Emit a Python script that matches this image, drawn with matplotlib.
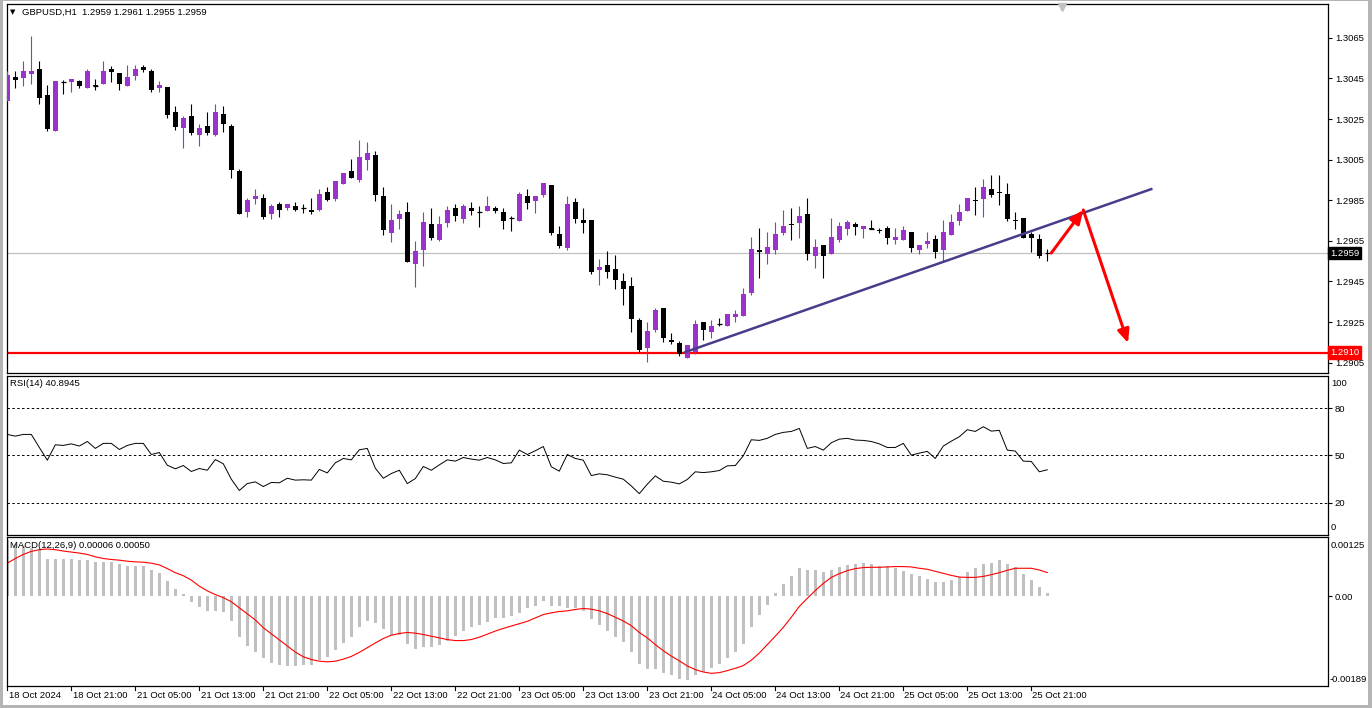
import numpy as np
import matplotlib
matplotlib.use("Agg")
import matplotlib.pyplot as plt
import matplotlib.transforms as mtransforms
from matplotlib.patches import Rectangle

FS = 6.8
plt.rcParams['font.family'] = ['Liberation Sans', 'DejaVu Sans']
plt.rcParams['font.size'] = FS

# GBPUSD H1 candles (open, high, low, close)
open_ = [1.30339, 1.30457, 1.30454, 1.30473, 1.30496, 1.30368, 1.30191, 1.30434, 1.30434, 1.30437,
         1.30404, 1.30418, 1.30424, 1.30496, 1.30477, 1.30414, 1.30464, 1.30506, 1.30487, 1.30404,
         1.30408, 1.30286, 1.30204, 1.30267, 1.30171, 1.30217, 1.30171, 1.30276, 1.30217, 1.29994,
         1.29790, 1.29856, 1.29863, 1.29780, 1.29833, 1.29810, 1.29823, 1.29813, 1.29803, 1.29800,
         1.29892, 1.29856, 1.29932, 1.29994, 1.29948, 1.30050, 1.30073, 1.29869, 1.29689, 1.29757,
         1.29794, 1.29537, 1.29606, 1.29734, 1.29656, 1.29738, 1.29813, 1.29757, 1.29813, 1.29794,
         1.29797, 1.29813, 1.29794, 1.29764, 1.29748, 1.29872, 1.29846, 1.29876, 1.29925, 1.29685,
         1.29613, 1.29843, 1.29754, 1.29754, 1.29508, 1.29531, 1.29511, 1.29452, 1.29429, 1.29262,
         1.29124, 1.29212, 1.29321, 1.29164, 1.29147, 1.29074, 1.29104, 1.29252, 1.29202, 1.29242,
         1.29229, 1.29275, 1.29278, 1.29393, 1.29603, 1.29587, 1.29606, 1.29689, 1.29734, 1.29738,
         1.29784, 1.29577, 1.29629, 1.29587, 1.29656, 1.29708, 1.29734, 1.29708, 1.29712, 1.29705,
         1.29715, 1.29656, 1.29656, 1.29695, 1.29606, 1.29636, 1.29659, 1.29606, 1.29679, 1.29748,
         1.29797, 1.29853, 1.29856, 1.29905, 1.29892, 1.29882, 1.29754, 1.29764, 1.29685, 1.29659,
         1.29590]
high = [1.30487, 1.30488, 1.30536, 1.30659, 1.30536, 1.30418, 1.30437, 1.30441, 1.30447, 1.30444,
        1.30496, 1.30447, 1.30536, 1.30513, 1.30477, 1.30516, 1.30516, 1.30516, 1.30496, 1.30437,
        1.30408, 1.30316, 1.30267, 1.30326, 1.30227, 1.30286, 1.30326, 1.30316, 1.30227, 1.30004,
        1.29863, 1.29905, 1.29882, 1.29833, 1.29843, 1.29833, 1.29843, 1.29833, 1.29863, 1.29905,
        1.29915, 1.29945, 1.29984, 1.30053, 1.30148, 1.30138, 1.30093, 1.29915, 1.29833, 1.29803,
        1.29843, 1.29649, 1.29794, 1.29813, 1.29774, 1.29823, 1.29833, 1.29833, 1.29843, 1.29823,
        1.29872, 1.29823, 1.29813, 1.29774, 1.29892, 1.29905, 1.29872, 1.29935, 1.29925, 1.29725,
        1.29872, 1.29863, 1.29813, 1.29754, 1.29560, 1.29600, 1.29580, 1.29492, 1.29472, 1.29272,
        1.29248, 1.29321, 1.29321, 1.29196, 1.29157, 1.29137, 1.29262, 1.29252, 1.29262, 1.29272,
        1.29291, 1.29311, 1.29419, 1.29669, 1.29712, 1.29695, 1.29744, 1.29803, 1.29813, 1.29823,
        1.29863, 1.29659, 1.29629, 1.29764, 1.29744, 1.29754, 1.29744, 1.29725, 1.29754, 1.29715,
        1.29725, 1.29715, 1.29725, 1.29695, 1.29629, 1.29695, 1.29679, 1.29754, 1.29784, 1.29833,
        1.29863, 1.29915, 1.29955, 1.29974, 1.29974, 1.29935, 1.29794, 1.29764, 1.29695, 1.29685,
        1.29610]
low = [1.30339, 1.30404, 1.30414, 1.30424, 1.30322, 1.30191, 1.30191, 1.30375, 1.30385, 1.30404,
       1.30404, 1.30395, 1.30424, 1.30434, 1.30395, 1.30414, 1.30444, 1.30483, 1.30385, 1.30385,
       1.30253, 1.30194, 1.30109, 1.30171, 1.30119, 1.30171, 1.30165, 1.30184, 1.29961, 1.29780,
       1.29767, 1.29830, 1.29757, 1.29757, 1.29767, 1.29800, 1.29797, 1.29787, 1.29780, 1.29797,
       1.29846, 1.29846, 1.29932, 1.29961, 1.29941, 1.30000, 1.29846, 1.29679, 1.29646, 1.29708,
       1.29547, 1.29423, 1.29528, 1.29656, 1.29649, 1.29718, 1.29748, 1.29738, 1.29777, 1.29718,
       1.29797, 1.29787, 1.29708, 1.29698, 1.29748, 1.29807, 1.29787, 1.29866, 1.29679, 1.29616,
       1.29606, 1.29738, 1.29689, 1.29488, 1.29432, 1.29468, 1.29413, 1.29334, 1.29202, 1.29101,
       1.29055, 1.29202, 1.29153, 1.29143, 1.29084, 1.29074, 1.29094, 1.29160, 1.29173, 1.29229,
       1.29229, 1.29248, 1.29278, 1.29383, 1.29468, 1.29537, 1.29587, 1.29679, 1.29656, 1.29666,
       1.29557, 1.29518, 1.29468, 1.29587, 1.29646, 1.29679, 1.29679, 1.29666, 1.29706, 1.29689,
       1.29636, 1.29636, 1.29656, 1.29597, 1.29587, 1.29616, 1.29567, 1.29547, 1.29679, 1.29728,
       1.29797, 1.29777, 1.29767, 1.29866, 1.29826, 1.29748, 1.29708, 1.29666, 1.29597, 1.29567,
       1.29550]
close = [1.30467, 1.30444, 1.30487, 1.30487, 1.30355, 1.30201, 1.30437, 1.30431, 1.30447, 1.30414,
         1.30487, 1.30414, 1.30487, 1.30483, 1.30424, 1.30457, 1.30496, 1.30493, 1.30395, 1.30418,
         1.30270, 1.30211, 1.30257, 1.30181, 1.30207, 1.30181, 1.30286, 1.30224, 1.30000, 1.29780,
         1.29853, 1.29872, 1.29767, 1.29823, 1.29800, 1.29833, 1.29800, 1.29810, 1.29790, 1.29882,
         1.29849, 1.29945, 1.29984, 1.29961, 1.30063, 1.30083, 1.29876, 1.29702, 1.29754, 1.29780,
         1.29547, 1.29600, 1.29744, 1.29666, 1.29734, 1.29803, 1.29771, 1.29823, 1.29797, 1.29790,
         1.29823, 1.29797, 1.29748, 1.29761, 1.29882, 1.29836, 1.29872, 1.29935, 1.29689, 1.29626,
         1.29833, 1.29757, 1.29738, 1.29495, 1.29521, 1.29498, 1.29459, 1.29413, 1.29265, 1.29110,
         1.29206, 1.29311, 1.29173, 1.29153, 1.29094, 1.29137, 1.29242, 1.29212, 1.29232, 1.29239,
         1.29291, 1.29291, 1.29390, 1.29610, 1.29597, 1.29620, 1.29685, 1.29725, 1.29728, 1.29774,
         1.29587, 1.29620, 1.29577, 1.29669, 1.29725, 1.29744, 1.29718, 1.29725, 1.29708, 1.29698,
         1.29666, 1.29669, 1.29705, 1.29616, 1.29629, 1.29649, 1.29597, 1.29695, 1.29744, 1.29794,
         1.29863, 1.29846, 1.29915, 1.29876, 1.29886, 1.29757, 1.29748, 1.29666, 1.29666, 1.29577,
         1.29590]

# RSI(14)
rsi = [63.4, 62.3, 63.4, 63.4, 55.1, 47.0, 56.8, 56.4, 57.4, 56.0, 58.9, 54.5, 57.7, 57.7, 53.8,
       56.4, 57.7, 57.7, 50.6, 51.9, 43.8, 41.5, 43.6, 39.8, 41.7, 40.6, 47.4, 44.7, 34.9, 27.7,
       32.1, 33.2, 30.2, 32.8, 32.6, 35.5, 34.3, 34.5, 34.3, 41.1, 38.9, 45.3, 48.1, 47.2, 53.6,
       54.5, 41.9, 35.5, 38.5, 40.6, 32.1, 35.3, 43.0, 40.6, 44.0, 47.2, 46.4, 48.7, 47.7, 47.0,
       48.7, 47.2, 44.9, 45.3, 53.4, 50.6, 53.0, 55.7, 42.8, 40.0, 50.6, 48.1, 47.0, 37.2, 38.3,
       37.7, 36.2, 34.9, 30.6, 25.7, 31.7, 37.0, 33.6, 33.0, 31.9, 34.7, 39.6, 39.1, 39.6, 40.4,
       43.4, 43.6, 49.8, 60.0, 59.6, 60.9, 63.4, 64.7, 65.3, 67.2, 54.5, 55.7, 53.4, 58.1, 60.4,
       60.9, 59.8, 59.6, 58.9, 57.4, 55.1, 55.1, 57.7, 50.2, 51.5, 52.6, 48.1, 56.0, 59.1, 61.9,
       66.4, 65.3, 68.3, 65.5, 66.0, 53.4, 52.8, 46.4, 46.2, 39.6, 40.9]

# MACD(12,26,9) main (histogram) and signal, in units of 1e-5
macd_main = [118, 110, 106, 102, 100, 79, 79, 79, 79, 75.5, 76.9, 71.9, 71.9, 71.9, 68.4,
             64.8, 64.8, 64.8, 55.5, 48.4, 31.3, 15.0, 4.3, -12.1, -22.8, -31.3, -31.3, -32.8, -52.7, -84.7,
             -104.7, -116.8, -131.0, -140.3, -144.5, -146.7, -146.7, -145.2, -143.8, -133.9, -127.4, -113.2, -97.5, -86.2, -64.1,
             -52.0, -56.2, -69.8, -81.2, -81.2, -100.4, -110.4, -106.1, -106.1, -102.5, -94.0, -82.6, -74.0, -65.5, -59.8,
             -54.1, -45.6, -45.6, -42.0, -34.9, -25.6, -20.6, -10.0, -20.6, -20.6, -25.6, -25.6, -29.9, -48.4, -59.8,
             -74.0, -84.7, -95.4, -116.8, -141.7, -152.4, -153.8, -160.9, -166.6, -175.2, -176.6, -165.2, -159.5, -150.9, -141.7,
             -129.6, -118.2, -99.7, -65.5, -39.9, -18.5, 6.4, 25.6, 42.7, 59.8, 55.5, 55.5, 52.0, 55.5, 61.9,
             66.2, 68.4, 69.8, 68.4, 64.8, 63.4, 59.8, 54.1, 47.0, 42.0, 36.3, 30.6, 30.6, 34.9, 39.9,
             52.0, 59.1, 68.4, 71.2, 76.9, 68.4, 61.2, 47.7, 34.2, 19.2, 6.0]
macd_signal = [69.8, 79.7, 88.3, 94.7, 98.3, 99.7, 98.3, 95.4, 93.3, 91.1, 88.3, 83.3, 79.7, 77.6, 76.2,
               74.0, 72.6, 71.9, 69.8, 66.2, 58.4, 49.8, 43.4, 34.2, 21.4, 11.4, 3.6, -2.8, -11.4, -24.2,
               -37.0, -49.8, -66.2, -79.0, -91.8, -104.7, -117.5, -127.4, -133.1, -136.7, -138.1, -136.7, -132.4, -126.7, -118.2,
               -108.2, -98.3, -89.0, -81.9, -78.3, -76.2, -77.6, -80.5, -84.0, -87.6, -91.1, -93.3, -93.3, -91.1, -86.2,
               -79.7, -73.3, -67.6, -62.7, -57.7, -52.7, -45.6, -38.4, -34.9, -32.0, -30.6, -27.8, -25.6, -27.1, -30.6,
               -36.3, -44.1, -52.0, -61.9, -76.2, -87.6, -101.8, -114.6, -126.0, -136.0, -146.7, -154.5, -159.5, -162.3, -160.9,
               -156.6, -151.7, -146.0, -134.6, -119.6, -101.8, -84.0, -65.5, -44.1, -21.4, -4.3, 12.1, 27.1, 39.9, 47.7,
               54.1, 58.4, 60.5, 61.2, 61.2, 61.9, 62.7, 62.7, 61.9, 59.1, 57.0, 52.7, 48.4, 44.1, 40.6,
               39.9, 39.9, 42.0, 45.6, 49.8, 54.8, 59.1, 59.1, 59.1, 55.5, 50.0]

time_labels = ["18 Oct 2024", "18 Oct 21:00", "21 Oct 05:00", "21 Oct 13:00", "21 Oct 21:00",
               "22 Oct 05:00", "22 Oct 13:00", "22 Oct 21:00", "23 Oct 05:00", "23 Oct 13:00",
               "23 Oct 21:00", "24 Oct 05:00", "24 Oct 13:00", "24 Oct 21:00", "25 Oct 05:00",
               "25 Oct 13:00", "25 Oct 21:00"]
price_ticks = [1.3065, 1.3045, 1.3025, 1.3005, 1.2985, 1.2965, 1.2945, 1.2925, 1.2905]
support_level = 1.2910
bid_price = 1.2959
trend_x = [84.75, 143.0]
trend_y = [1.29102, 1.29905]
arrow_pts = [(130.5, 1.2959), (134.5, 1.29802), (140.1, 1.29147)]

PURPLE = '#9933CC'
W, H = 1372, 708
fig = plt.figure(figsize=(W / 100, H / 100), dpi=100, facecolor='white')


def panel(x0, y0, x1, y1):
    return fig.add_axes([x0 / W, 1 - y1 / H, (x1 - x0) / W, (y1 - y0) / H])


def fig_text(x, y, s, **kw):
    fig.text(x / W, 1 - y / H, s, va='center', **kw)


ax = panel(7, 4, 1328, 373)
ax_rsi = panel(7, 376, 1328, 535)
ax_macd = panel(7, 537, 1328, 686)

n = len(close)
x = np.arange(n)
o = np.array(open_)
c = np.array(close)
hi = np.array(high)
lo = np.array(low)
XLIM = (-0.04, 165.09)

for a in (ax, ax_rsi, ax_macd):
    a.set_xlim(*XLIM)
    a.set_xticks([])
    a.yaxis.tick_right()
    a.tick_params(axis='y', length=3, width=0.8, pad=2, labelsize=FS, colors='black')
    for s in a.spines.values():
        s.set_color('black')
        s.set_linewidth(0.9)
    a.set_facecolor('white')

# --- price panel ---
ax.set_ylim(1.28999, 1.30817)
bull = c > o
cols = np.where(bull, PURPLE, 'black')
ax.vlines(x, lo, hi, colors=cols, lw=0.8, zorder=3)
body_lo = np.minimum(o, c)
body_h = np.abs(c - o)
ax.bar(x, body_h, bottom=body_lo, width=0.62, color=cols, lw=0, zorder=4)
doji = body_h < 0.00005
ax.hlines(c[doji], x[doji] - 0.31, x[doji] + 0.31, colors=cols[doji], lw=0.9, zorder=4)

ax.axhline(bid_price, color='#C0C0C0', lw=0.9, zorder=1)
ax.axhline(support_level, color='red', lw=1.6, zorder=2)
ax.plot(trend_x, trend_y, color='#483D8B', lw=1.8, zorder=5)
for (x0, y0), (x1, y1) in zip(arrow_pts[:-1], arrow_pts[1:]):
    ax.annotate('', xy=(x1, y1), xytext=(x0, y0),
                arrowprops=dict(arrowstyle='-|>,head_length=0.5,head_width=0.22', color='red', lw=2.2,
                                mutation_scale=16, shrinkA=0, shrinkB=0), zorder=6)

ax.set_yticks(price_ticks)
ax.set_yticklabels([f"{p:.4f}" for p in price_ticks])

# price boxes on the axis
trans_p = mtransforms.blended_transform_factory(ax.transAxes, ax.transData)
ax.text(1.0016, bid_price, f"{bid_price:.4f}", transform=trans_p, color='white', fontsize=FS,
        va='center', ha='left', bbox=dict(boxstyle='square,pad=0.2', fc='black', ec='black'), zorder=10)
ax.text(1.0016, support_level, f"{support_level:.4f}", transform=trans_p, color='white', fontsize=FS,
        va='center', ha='left', bbox=dict(boxstyle='square,pad=0.2', fc='red', ec='red'), zorder=10)

# chart-shift marker
ax.plot([131.8], [1.30800], marker='v', color='#C0C0C0', markersize=6, clip_on=False, zorder=7)

fig_text(10, 12, '\u25bc', fontsize=5, family='DejaVu Sans')
fig_text(22, 12, 'GBPUSD,H1  1.2959 1.2961 1.2955 1.2959', fontsize=FS)

# --- RSI panel ---
ax_rsi.set_ylim(-0.64, 100.6)
for lvl in (80, 50, 20):
    ax_rsi.axhline(lvl, color='black', lw=0.7, linestyle=(0, (2.5, 2.5)))
ax_rsi.plot(x, rsi, color='black', lw=0.7)
ax_rsi.set_yticks([80, 50, 20])
ax_rsi.set_yticklabels(['80', '50', '20'])
fig_text(1331, 383, '100', fontsize=FS)
fig_text(1331, 527, '0', fontsize=FS)
fig_text(10, 384, 'RSI(14) 40.8945', fontsize=FS)

# --- MACD panel ---
ax_macd.set_ylim(-0.00189, 0.00125)
ax_macd.bar(x, np.array(macd_main) * 1e-5, width=0.42, color='#C0C0C0', lw=0)
ax_macd.plot(x, np.array(macd_signal) * 1e-5, color='red', lw=0.8)
ax_macd.set_yticks([0.0])
ax_macd.set_yticklabels(['0.00'])
fig_text(1331, 545, '0.00125', fontsize=FS)
fig_text(1330, 680, '-0.00189', fontsize=FS)
fig_text(10, 546, 'MACD(12,26,9) 0.00006 0.00050', fontsize=FS)

# time axis
trans_t = mtransforms.blended_transform_factory(ax_macd.transData, ax_macd.transAxes)
for k, lab in enumerate(time_labels):
    bx = 8 * k
    ax_macd.plot([bx, bx], [0, -0.03], color='black', lw=0.8, transform=trans_t, clip_on=False)
    ax_macd.text(bx + 0.15, -0.062, lab, transform=trans_t, ha='left', va='center', fontsize=FS)

# window frame
for rect in [(0, 0, 3, H), (0, 0, W, 1), (W - 4, 0, 4, H), (0, H - 3, W, 3)]:
    rx, ry, rw, rh = rect
    fig.add_artist(Rectangle((rx / W, 1 - (ry + rh) / H), rw / W, rh / H,
                             transform=fig.transFigure, color='#B4B4B4', lw=0))

fig.savefig('out.png', dpi=100, facecolor='white')
